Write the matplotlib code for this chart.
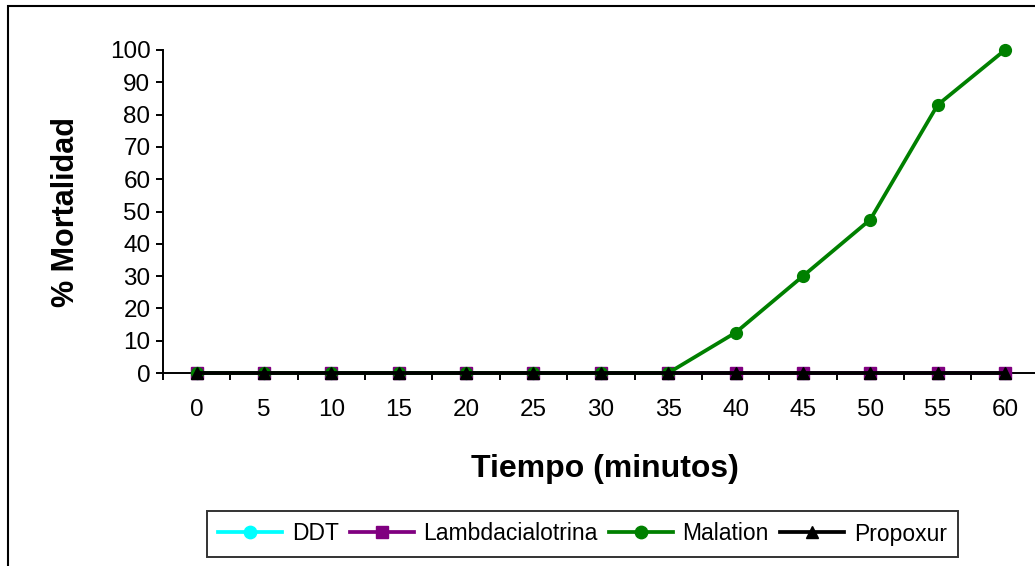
import numpy as np
import matplotlib
matplotlib.use('Agg')
import matplotlib.pyplot as plt
from matplotlib.patches import Rectangle

plt.rcParams['font.family'] = ['Liberation Sans', 'DejaVu Sans']

minutes = ['0', '5', '10', '15', '20', '25', '30', '35', '40', '45', '50', '55', '60']
ddt = [0, 0, 0, 0, 0, 0, 0, 0, 0, 0, 0, 0, 0]
lambdacialotrina = [0, 0, 0, 0, 0, 0, 0, 0, 0, 0, 0, 0, 0]
malation = [0, 0, 0, 0, 0, 0, 0, 0, 12.5, 30, 47.5, 83, 100]
propoxur = [0, 0, 0, 0, 0, 0, 0, 0, 0, 0, 0, 0, 0]

W, H = 1035, 566
fig = plt.figure(figsize=(W / 100, H / 100), dpi=100)

# outer chart border (right/bottom edges fall outside the picture)
fig.patches.append(Rectangle((8 / W, -0.2), 1.1, 1.2 - 6 / H, transform=fig.transFigure,
                             fill=False, edgecolor='black', linewidth=1.5))

ax = fig.add_axes([163 / W, 1 - 373 / H, (1038.7 - 163) / W, (373 - 50) / H])
x = np.arange(len(minutes))

series = [
    ('DDT', ddt, '#00FFFF', 'o'),
    ('Lambdacialotrina', lambdacialotrina, '#800080', 's'),
    ('Malation', malation, '#008000', 'o'),
    ('Propoxur', propoxur, '#000000', '^'),
]
for name, vals, col, mk in series:
    ax.plot(x, vals, color=col, marker=mk, markersize=8.5, linewidth=2.7,
            label=name, clip_on=False, zorder=3)

ax.set_xlim(-0.5, len(minutes) - 0.5)
ax.set_ylim(0, 100)
ax.set_yticks(np.arange(0, 101, 10))
ax.set_xticks(x)
ax.set_xticklabels(minutes)
ax.set_xticks(np.arange(-0.5, len(minutes)), minor=True)
ax.tick_params(axis='x', which='major', length=0, pad=19, labelsize=17.5)
ax.tick_params(axis='x', which='minor', length=5, width=1.4, direction='out')
ax.tick_params(axis='y', length=5, width=1.4, direction='out', pad=4, labelsize=17.5)

for s in ['top', 'right']:
    ax.spines[s].set_visible(False)
ax.spines['left'].set_linewidth(1.4)
ax.spines['bottom'].set_linewidth(1.4)

fig.text(605 / W, 1 - 469 / H, 'Tiempo (minutos)', ha='center', va='center',
         fontsize=23, fontweight='bold')
fig.text(66 / W, 1 - 212 / H, '% Mortalidad', ha='center', va='center',
         rotation=90, fontsize=22, fontweight='bold')

leg = fig.legend(loc='center', bbox_to_anchor=(582.5 / W, 1 - 534 / H), ncol=4,
                 fontsize=16.5, frameon=True, fancybox=False, edgecolor='black',
                 handlelength=2.8, handletextpad=0.4, columnspacing=0.5,
                 borderpad=0.5, markerscale=1.05)
leg.get_frame().set_linewidth(1.4)

fig.savefig('out.png', dpi=100)
